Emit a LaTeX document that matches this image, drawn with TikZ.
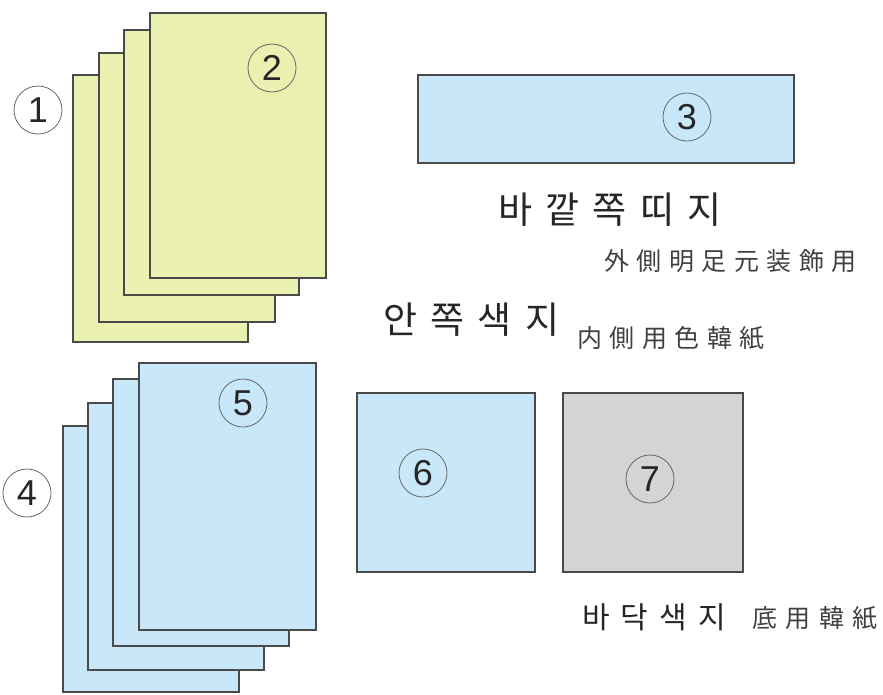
\documentclass[tikz,border=0pt]{standalone}
\usepackage{fontspec}
\setmainfont{Liberation Sans}
\newfontfamily\krbig[LetterSpace=36]{Noto Sans CJK KR}
\newfontfamily\krmid[LetterSpace=37]{Noto Sans CJK KR}
\newfontfamily\cjsm[LetterSpace=30]{Noto Sans CJK JP}
\newfontfamily\cjsmb[LetterSpace=34]{Noto Sans CJK JP}
\definecolor{paperY}{HTML}{EAF0B0}
\definecolor{paperB}{HTML}{C8E8FA}
\definecolor{paperG}{HTML}{D4D4D4}
\definecolor{edge}{HTML}{4A4A4A}
\begin{document}
\begin{tikzpicture}[x=1pt,y=-1pt,
  sheetY/.style={fill=paperY,draw=edge,line width=1.1pt},
  sheetB/.style={fill=paperB,draw=edge,line width=1.1pt},
  sheetG/.style={fill=paperG,draw=edge,line width=1.1pt},
  num/.style={circle,draw=black!60,line width=0.8pt,minimum size=48pt,inner sep=0pt,font=\fontsize{36}{36}\selectfont,text=black!85},
  krlab/.style={anchor=west,inner sep=0pt,text=black!85,font=\krbig\fontsize{37}{37}\selectfont},
  krlabm/.style={anchor=west,inner sep=0pt,text=black!85,font=\krmid\fontsize{30}{30}\selectfont},
  cjlab/.style={anchor=west,inner sep=0pt,text=black!75,font=\cjsm\fontsize{25}{25}\selectfont},
  cjlabb/.style={anchor=west,inner sep=0pt,text=black!75,font=\cjsmb\fontsize{25}{25}\selectfont}]
\useasboundingbox (0,0) rectangle (883,694);
% yellow stack
\path[sheetY] (73,75) rectangle (248,342);
\path[sheetY] (99,53) rectangle (275,322);
\path[sheetY] (124,30) rectangle (299,295);
\path[sheetY] (150,13) rectangle (326,278);
\node[num] (n1) at (38,110) {1};
\node[num] (n2) at (272,68) {2};
% outer strip
\path[sheetB] (418,75) rectangle (794,163);
\node[num] (n3) at (687,117) {3};
\node[krlab] (t1) at (498,210) {바깥쪽띠지};
\node[cjlab] (c1) at (604,261) {外側明足元装飾用};
\node[krlab] (t2) at (383,320) {안쪽색지};
\node[cjlab] (c2) at (577,338) {内側用色韓紙};
% blue stack
\path[sheetB] (63,426) rectangle (239,692);
\path[sheetB] (88,403) rectangle (264,670);
\path[sheetB] (113,379) rectangle (289,646);
\path[sheetB] (139,363) rectangle (316,630);
\node[num] (n4) at (27,493) {4};
\node[num] (n5) at (243,403) {5};
% squares
\path[sheetB] (357,393) rectangle (535,572);
\node[num] (n6) at (423,473) {6};
\path[sheetG] (563,393) rectangle (743,572);
\node[num] (n7) at (650,479) {7};
\node[krlabm] (t3) at (582,617) {바닥색지};
\node[cjlabb] (c3) at (752,618) {底用韓紙};
\end{tikzpicture}
\end{document}
